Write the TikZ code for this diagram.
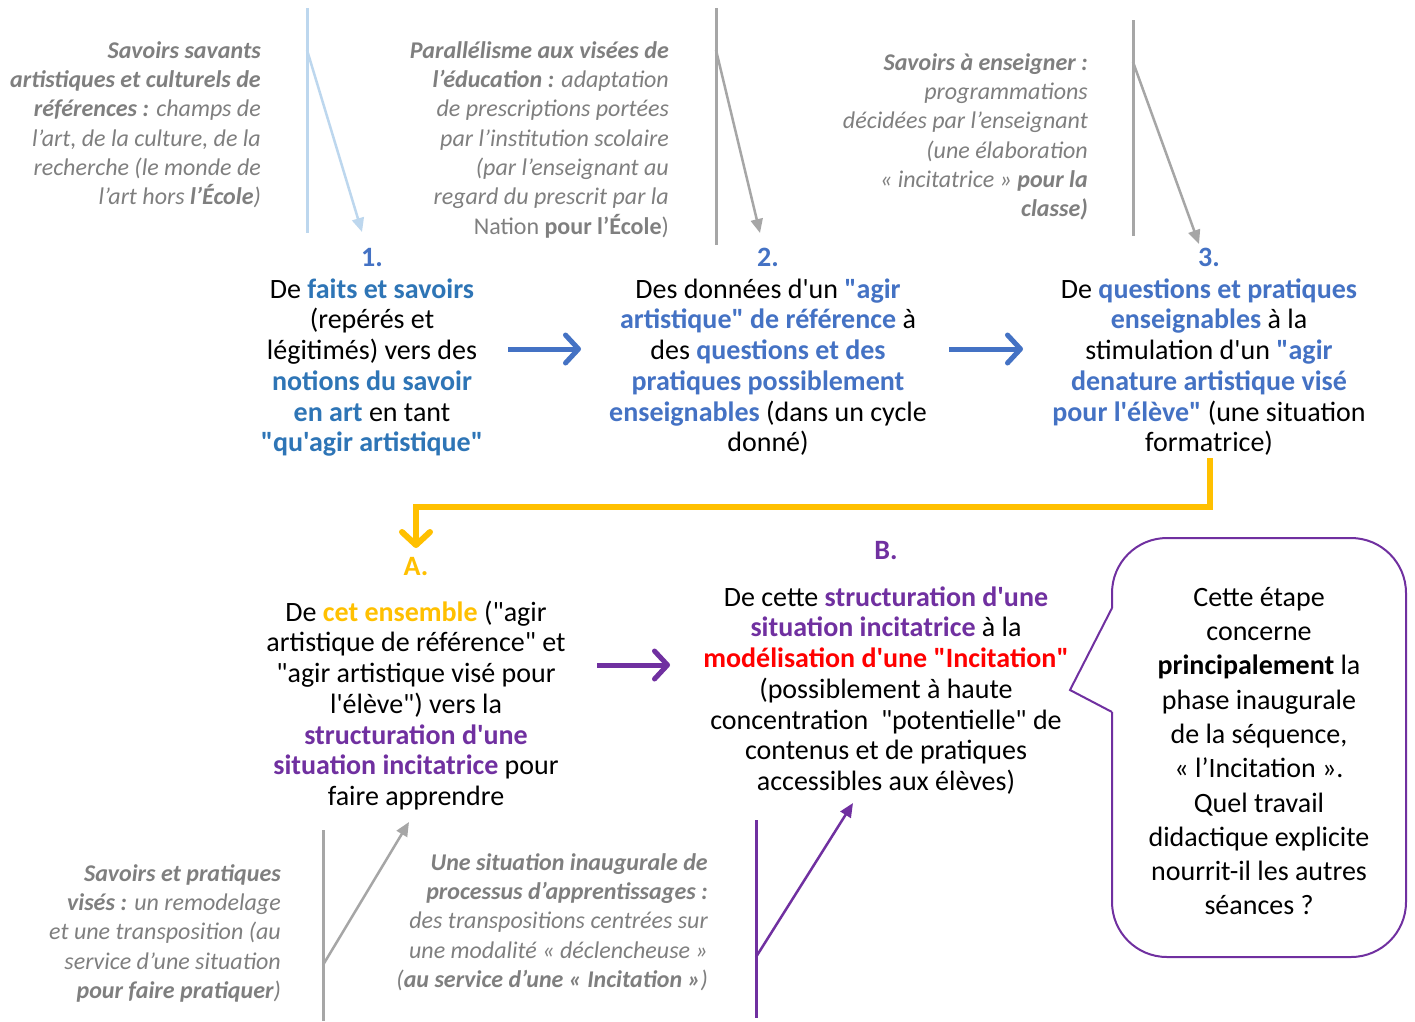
\documentclass[tikz,border=0pt]{standalone}
\usepackage{fontspec}
\setmainfont{Carlito}[Ligatures=TeXOff]
\usetikzlibrary{arrows.meta}
\definecolor{hlblue}{HTML}{2E75B6}
\definecolor{numblue}{HTML}{4472C4}
\definecolor{yel}{HTML}{FFC000}
\definecolor{pur}{HTML}{7030A0}
\definecolor{grtxt}{HTML}{7F7F7F}
\definecolor{grline}{HTML}{A6A6A6}
\definecolor{lblue}{HTML}{BDD7EE}
\newcommand{\hla}[1]{\textcolor{hlblue}{\textbf{#1}}}
\newcommand{\hlb}[1]{\textcolor{numblue}{\textbf{#1}}}
\newcommand{\hly}[1]{\textcolor{yel}{\textbf{#1}}}
\newcommand{\hlp}[1]{\textcolor{pur}{\textbf{#1}}}
\newcommand{\hlr}[1]{\textcolor{red}{\textbf{#1}}}
\tikzset{
  body/.style={inner sep=0pt, align=center, font=\fontsize{28}{30.7}\selectfont, anchor=north},
  callouttext/.style={inner sep=0pt, align=center, font=\fontsize{28}{34.3}\selectfont, anchor=north},
  note/.style={inner sep=0pt, align=right, text=grtxt, font=\fontsize{24}{29.3}\selectfont\itshape, anchor=north east},
  numlab/.style={inner sep=0pt, font=\fontsize{28}{30}\selectfont\bfseries, anchor=base},
  bigarrow/.style={line width=5pt, -{Straight Barb[length=13pt,width=28pt,line cap=round,line join=round]}},
  lbline/.style={draw=lblue, line width=3pt},
  lbarrow/.style={draw=lblue, line width=2.5pt, -{Triangle[length=14pt,width=12pt]}},
  gline/.style={draw=grline, line width=3pt},
  garrow/.style={draw=grline, line width=2.5pt, -{Triangle[length=14pt,width=12pt]}},
  pline/.style={draw=pur, line width=3pt},
  parrow/.style={draw=pur, line width=2.5pt, -{Triangle[length=14pt,width=12pt]}},
}
\begin{document}
\begin{tikzpicture}[x=1pt,y=-1pt]
\useasboundingbox[fill=white] (0,0) rectangle (1415,1021);

% top notes
\node[note] (n1) at (261,37.5) {\strut\textbf{Savoirs savants}\\
\textbf{artistiques et culturels de}\\
\textbf{références :} champs de\\
l’art, de la culture, de la\\
recherche (le monde de\\
l’art hors \textbf{l’École})};

\node[note] (n2) at (669,37.5) {\strut\textbf{Parallélisme aux visées de}\\
\textbf{l’éducation :} adaptation\\
de prescriptions portées\\
par l’institution scolaire\\
(par l’enseignant au\\
regard du prescrit par la\\
\upshape Nation \textbf{pour l’École})};

\node[note] (n3) at (1088,49.5) {\strut\textbf{Savoirs à enseigner :}\\
programmations\\
décidées par l’enseignant\\
(une élaboration\\
« incitatrice » \textbf{pour la}\\
\textbf{classe)}};

% numbers
\node[numlab, text=numblue] (lab1) at (372,266) {1.};
\node[numlab, text=numblue] (lab2) at (768,266) {2.};
\node[numlab, text=numblue] (lab3) at (1209,266) {3.};
\node[numlab, text=yel] (labA) at (416,575) {A.};
\node[numlab, text=pur] (labB) at (886,559) {B.};

% steps
\node[body] (s1) at (372,276.5) {\strut De \hla{faits et savoirs}\\
(repérés et\\
légitimés) vers des\\
\hla{notions du savoir}\\
\hla{en art} en tant\\
\hla{"qu'agir artistique"}};

\node[body] (s2) at (768,276.5) {\strut Des données d'un \hlb{"agir}\\
\hlb{artistique" de référence} à\\
des \hlb{questions et des}\\
\hlb{pratiques possiblement}\\
\hlb{enseignables} (dans un cycle\\
donné)};

\node[body] (s3) at (1209,276.5) {\strut De \hlb{questions et pratiques}\\
\hlb{enseignables} à la\\
stimulation d'un \hlb{"agir}\\
\hlb{denature artistique visé}\\
\hlb{pour l'élève"} (une situation\\
formatrice)};

\node[body] (sA) at (416,599.5) {\strut De \hly{cet ensemble} ("agir\\
artistique de référence" et\\
"agir artistique visé pour\\
l'élève") vers la\\
\hlp{structuration d'une}\\
\hlp{situation incitatrice} pour\\
faire apprendre};

\node[body] (sB) at (886,584.5) {\strut De cette \hlp{structuration d'une}\\
\hlp{situation incitatrice} à la\\
\hlr{modélisation d'une "Incitation"}\\
(possiblement à haute\\
concentration\ \ "potentielle" de\\
contenus et de pratiques\\
accessibles aux élèves)};

% callout
\node[callouttext] (co) at (1259,582) {\strut Cette étape\\
concerne\\
\textbf{principalement} la\\
phase inaugurale\\
de la séquence,\\
« l’Incitation ».\\
Quel travail\\
didactique explicite\\
nourrit-il les autres\\
séances ?};
\draw[draw=pur, line width=2pt, rounded corners=55pt] (1112,712) -- (1112,957) -- (1406,957) -- (1406,538) -- (1112,538) -- (1112,608);
\draw[draw=pur, line width=2pt, line join=miter] (1112,608) -- (1070,690) -- (1112,712);

% bottom notes
\node[note] (n4) at (281,860.5) {\strut\textbf{Savoirs et pratiques}\\
\textbf{visés :} un remodelage\\
et une transposition (au\\
service d’une situation\\
\textbf{pour faire pratiquer})};

\node[note] (n5) at (708,849.5) {\strut\textbf{Une situation inaugurale de}\\
\textbf{processus d’apprentissages :}\\
des transpositions centrées sur\\
une modalité « déclencheuse »\\
(\textbf{au service d’une « Incitation »})};

% connector coordinates
\coordinate (v1t) at (307,8);   \coordinate (v1b) at (307,233);
\coordinate (v1m) at (307,50);  \coordinate (a1e) at (362,232);
\coordinate (v2t) at (716,8);   \coordinate (v2b) at (716,245);
\coordinate (v2m) at (716,50);  \coordinate (a2e) at (760,233);
\coordinate (v3t) at (1133,20); \coordinate (v3b) at (1133,236);
\coordinate (v3m) at (1133,62); \coordinate (a3e) at (1199,244);
\coordinate (v4t) at (323,830); \coordinate (v4b) at (323,1021);
\coordinate (v4m) at (323,965); \coordinate (a4e) at (409,822);
\coordinate (v5t) at (756,820); \coordinate (v5b) at (756,1018);
\coordinate (v5m) at (756,957); \coordinate (a5e) at (853,803);
\coordinate (b1s) at (508,349); \coordinate (b1e) at (581,349);
\coordinate (b2s) at (949,349); \coordinate (b2e) at (1023,349);
\coordinate (ys) at (1210,458); \coordinate (ye) at (416,548);
\coordinate (ps) at (597,665);  \coordinate (pe) at (670,665);

\draw[lbline] (v1t) -- (v1b);
\draw[lbarrow] (v1m) -- (a1e);
\draw[gline] (v2t) -- (v2b);
\draw[garrow] (v2m) -- (a2e);
\draw[gline] (v3t) -- (v3b);
\draw[garrow] (v3m) -- (a3e);
\draw[gline] (v4t) -- (v4b);
\draw[garrow] (v4m) -- (a4e);
\draw[pline] (v5t) -- (v5b);
\draw[parrow] (v5m) -- (a5e);

\draw[bigarrow, draw=numblue] (b1s) -- (b1e);
\draw[bigarrow, draw=numblue] (b2s) -- (b2e);
\draw[bigarrow, draw=yel, line width=6pt] (ys) |- (416,507) -- (ye);
\draw[bigarrow, draw=pur] (ps) -- (pe);
\end{tikzpicture}
\end{document}
